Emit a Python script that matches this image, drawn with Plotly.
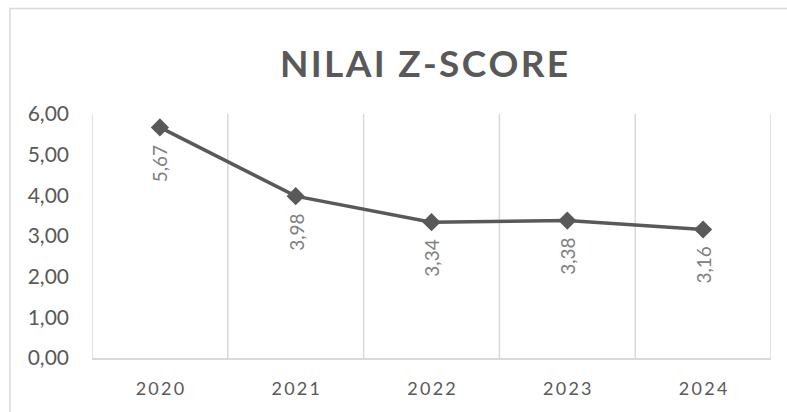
import plotly.graph_objects as go

years = ["2020", "2021", "2022", "2023", "2024"]
zscore = [5.67, 3.98, 3.34, 3.38, 3.16]
ytick_vals = [0, 1, 2, 3, 4, 5, 6]
ytick_text = ["0,00", "1,00", "2,00", "3,00", "4,00", "5,00", "6,00"]
title_text = "NILAI Z-SCORE"

LINE = "#595959"
GRID = "#d9d9d9"
LABEL = "#808080"
FONT = "Lato"
HAIR = "\u200a"
THIN = "\u2009"


def spaced(s, sep):
    return sep.join(s)


xpos = list(range(len(years)))
bounds = [i - 0.5 for i in range(len(years) + 1)]

fig = go.Figure()
fig.add_trace(go.Scatter(
    x=xpos, y=zscore, mode="lines+markers",
    line=dict(color=LINE, width=3.5),
    marker=dict(symbol="diamond", size=14, color=LINE),
    hoverinfo="skip", showlegend=False,
))

for xp, v in zip(xpos, zscore):
    fig.add_annotation(
        x=xp, y=v, xref="x", yref="y",
        text=f"{v:.2f}".replace(".", ","),
        textangle=-90, showarrow=False, yshift=-36,
        font=dict(family=FONT, size=19, color=LABEL),
    )

fig.add_annotation(
    x=(424 - 92) / 679, y=(358 - 63) / 244, xref="paper", yref="paper",
    text=f"<b>{spaced(title_text, HAIR)}</b>", showarrow=False,
    font=dict(family=FONT, size=37, color=LINE),
    xanchor="center", yanchor="middle",
)

fig.add_shape(
    type="rect", xref="paper", yref="paper",
    x0=(10 - 92) / 679, x1=(800 - 92) / 679,
    y0=(358 - 430) / 244, y1=(358 - 8.5) / 244,
    line=dict(color=GRID, width=1.5), layer="below",
)

for b in bounds:
    fig.add_shape(
        type="line", xref="x", yref="paper", x0=b, x1=b, y0=0, y1=1,
        line=dict(color=GRID, width=1.5), layer="below",
    )

fig.update_layout(
    width=787, height=412,
    margin=dict(l=92, r=16, t=114, b=54),
    paper_bgcolor="white", plot_bgcolor="white",
    font=dict(family=FONT, color=LINE),
)
fig.update_xaxes(
    range=[bounds[0], bounds[-1]], tickmode="array", tickvals=xpos,
    ticktext=[spaced(y, THIN) for y in years],
    showgrid=False, showline=True, linecolor=GRID, linewidth=1.5,
    ticks="", tickfont=dict(family=FONT, size=18, color=LINE),
    ticklabelstandoff=14, zeroline=False, tickangle=0,
)
fig.update_yaxes(
    range=[0, 6], tickvals=ytick_vals, ticktext=ytick_text,
    showgrid=False, zeroline=False, showline=False, ticks="",
    tickfont=dict(family=FONT, size=21, color=LINE), ticklabelstandoff=22,
)

fig.write_html("out.html")
